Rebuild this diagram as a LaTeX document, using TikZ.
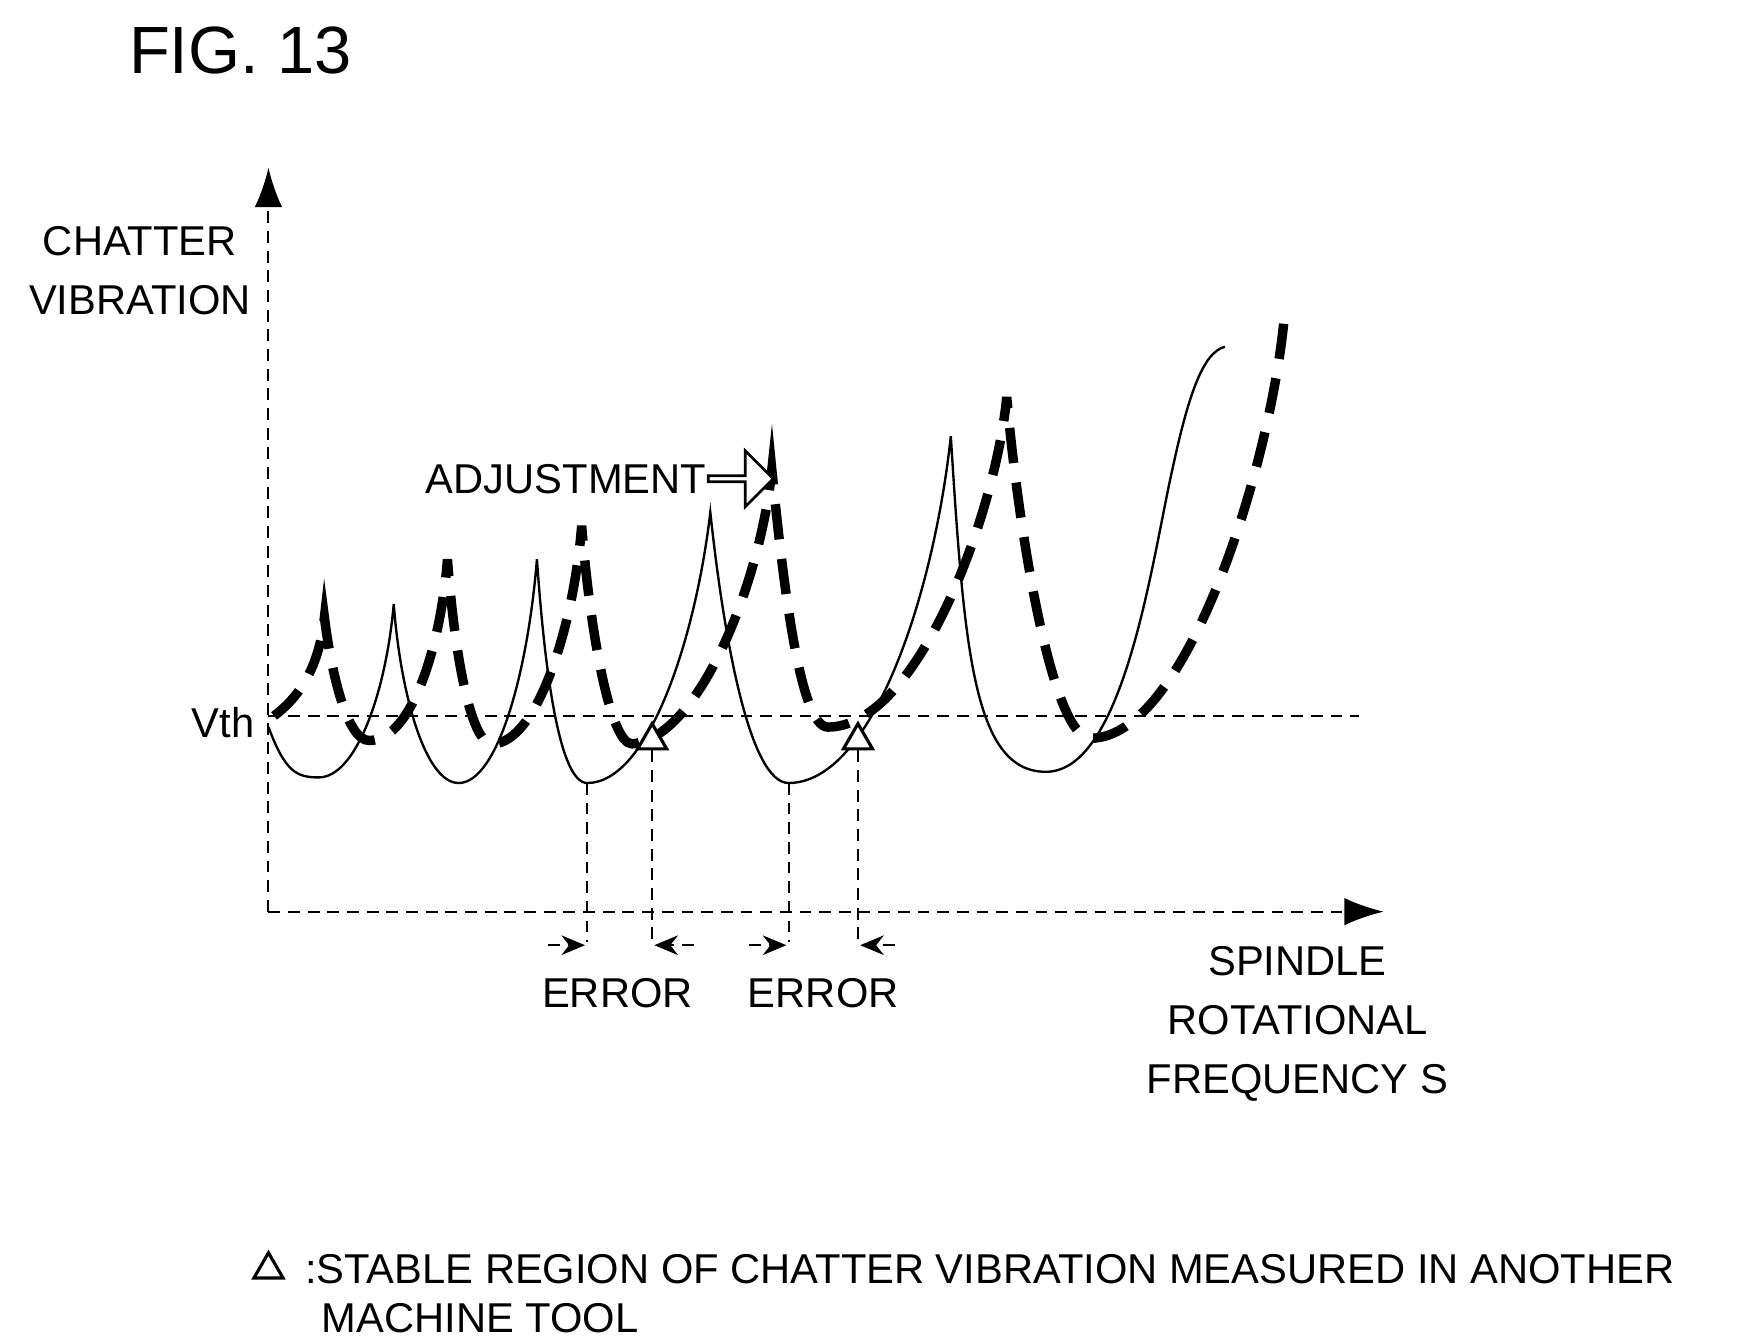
\documentclass[tikz,border=0pt]{standalone}
\usepackage{fontspec}
\setmainfont{Liberation Sans}
\usetikzlibrary{arrows.meta,shapes.geometric,shapes.arrows}

\begin{document}
\begin{tikzpicture}[x=0.01cm,y=-0.01cm]
    \useasboundingbox (0,0) rectangle (1560,1198);

    \tikzset{
        lbl/.style={font=\fontsize{10.6}{12}\selectfont, inner sep=0pt},
        thin dash/.style={dash pattern=on 3pt off 2pt, line width=0.5pt},
        fat dash/.style={dash pattern=on 9pt off 5pt, line width=2.4pt},
        tri/.style={draw, isosceles triangle, shape border rotate=90, isosceles triangle apex angle=60, minimum width=0.26cm, inner sep=0pt, fill=white, line width=0.8pt}
    }

    \node[font=\fontsize{17}{20}\selectfont] (fig) at (215,45) {FIG. 13};

    % axes
    \coordinate (o) at (240,815);
    \coordinate (ytop) at (240,150);
    \coordinate (xend) at (1237,815);
    \draw[thin dash, -{Latex[length=10pt,width=7pt]}] (o) -- (ytop);
    \draw[thin dash, -{Latex[length=10pt,width=7pt]}] (o) -- (xend);

    \node[lbl, align=center] (yl) at (125,242) {CHATTER\\[3pt]VIBRATION};
    \node[lbl, align=center] (xl) at (1160,915) {SPINDLE\\[3pt]ROTATIONAL\\[3pt]FREQUENCY S};

    % threshold
    \node[lbl, anchor=east] (vth) at (228,646) {Vth};
    \coordinate (v0) at (240,640);
    \coordinate (v1) at (1215,640);
    \draw[thin dash] (v0) -- (v1);

    % measured curve
    \draw[line width=0.6pt] (240,650) .. controls (255,690) and (265,695) .. (285,695)
        .. controls (318,695) and (345,620) .. (352,540)
        .. controls (358,620) and (380,700) .. (410,700)
        .. controls (445,700) and (472,600) .. (480,500)
        .. controls (487,600) and (500,700) .. (525,700)
        .. controls (580,700) and (622,570) .. (635,458)
        .. controls (647,570) and (670,700) .. (705,700)
        .. controls (780,700) and (835,530) .. (850,390)
        .. controls (862,580) and (870,690) .. (935,690)
        .. controls (1005,690) and (1030,500) .. (1048,420)
        .. controls (1062,355) and (1075,315) .. (1095,310);

    % adjusted curve
    \draw[fat dash] (245,640) .. controls (265,625) and (285,600) .. (290,552)
        .. controls (296,600) and (310,662) .. (330,662)
        .. controls (370,662) and (395,570) .. (400,500)
        .. controls (406,580) and (420,665) .. (440,665)
        .. controls (480,665) and (513,560) .. (520,470)
        .. controls (527,560) and (545,665) .. (565,665)
        .. controls (625,660) and (680,520) .. (690,420)
        .. controls (700,520) and (715,650) .. (740,650)
        .. controls (820,650) and (890,460) .. (900,355)
        .. controls (910,470) and (940,660) .. (975,660)
        .. controls (1060,660) and (1135,420) .. (1148,285);

    % stable points of the other machine
    \node[tri] (s1) at (583,662) {};
    \node[tri] (s2) at (767,662) {};

    % error markers
    \coordinate (m1) at (525,700);
    \coordinate (m2) at (705,700);
    \coordinate (b1) at (525,842);
    \coordinate (b2) at (705,842);
    \coordinate (c1) at (583,842);
    \coordinate (c2) at (767,842);
    \foreach \a/\b in {m1/b1,m2/b2,s1/c1,s2/c2}
        \draw[thin dash] (\a) -- (\b);
    \foreach \s/\e in {490/523,620/585,670/703,800/769}
        \draw[thin dash, -{Stealth[length=6pt,width=5pt]}] (\s,845) -- (\e,845);
    \node[lbl] (e1) at (552,888) {ERROR};
    \node[lbl] (e2) at (736,888) {ERROR};

    % adjustment
    \node[lbl, anchor=east] (adj) at (632,428) {ADJUSTMENT};
    \node[draw, single arrow, line width=0.7pt, minimum height=0.58cm, minimum width=0.5cm,
        single arrow head extend=0.1cm, inner sep=0pt, anchor=west, fill=white] (adjarr) at (adj.east) {};

    % legend
    \node[tri] (lt) at (240,1135) {};
    \node[lbl, anchor=west] (leg) at (272,1135) {:STABLE REGION OF CHATTER VIBRATION MEASURED IN ANOTHER};
    \node[lbl, anchor=west] (leg2) at (287,1178) {MACHINE TOOL};
\end{tikzpicture}
\end{document}
